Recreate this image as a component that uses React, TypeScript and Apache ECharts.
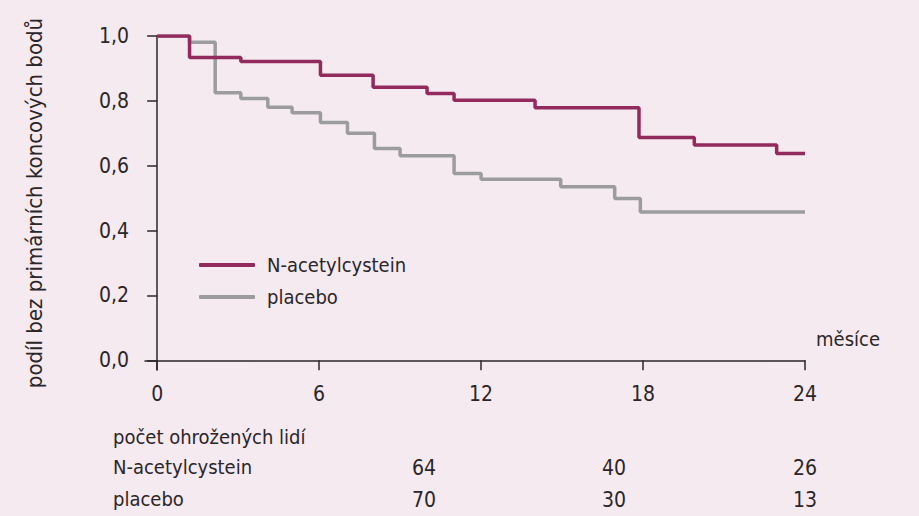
import React, { useEffect, useRef } from "react";
import * as echarts from "echarts";

const seriesNames = ["N-acetylcystein", "placebo"];

const nacMonths = [0, 1.2, 3.1, 6.05, 8.0, 10.0, 11.0, 14.0, 17.85, 19.9, 22.95, 24];
const nacValues = [1.0, 0.934, 0.921, 0.879, 0.842, 0.823, 0.802, 0.779, 0.687, 0.664, 0.638, 0.638];

const placeboMonths = [0, 1.2, 2.15, 3.1, 4.1, 5.0, 6.05, 7.05, 8.05, 9.0, 11.0, 12.0, 14.95, 16.95, 17.9, 24];
const placeboValues = [1.0, 0.981, 0.825, 0.807, 0.78, 0.763, 0.733, 0.7, 0.653, 0.631, 0.576, 0.558, 0.535, 0.499, 0.457, 0.457];

const xTicks = [0, 6, 12, 18, 24];
const yTicks = [0, 0.2, 0.4, 0.6, 0.8, 1.0];

const riskTitle = "počet ohrožených lidí";
const riskNac = [64, 40, 26];
const riskPlacebo = [70, 30, 13];

const yAxisTitle = "podíl bez primárních koncových bodů";
const xAxisTitle = "měsíce";

const FONT = "'Liberation Sans Narrow', 'DejaVu Sans Condensed', 'Liberation Sans', sans-serif";
const TEXT = "#2b2628";
const MAGENTA = "#922a5e";
const GRAY = "#9c9c9e";
const BG = "#f5eaef";

export default function App() {
  const ref = useRef<HTMLDivElement>(null);
  useEffect(() => {
    if (!ref.current) return;
    const chart = echarts.init(ref.current, null, { renderer: "svg" });
    const toPairs = (xs: number[], ys: number[]) => xs.map((x, i) => [x, ys[i]]);
    const riskCols = [424, 614, 805];
    const riskText: any[] = [
      { type: "text", left: 113, top: 427, style: { text: riskTitle, font: `20px ${FONT}`, fill: TEXT } },
      { type: "text", left: 113, top: 457, style: { text: seriesNames[0], font: `20px ${FONT}`, fill: TEXT } },
      { type: "text", left: 113, top: 489, style: { text: seriesNames[1], font: `20px ${FONT}`, fill: TEXT } },
    ];
    riskNac.forEach((v, i) => {
      riskText.push({ type: "text", x: riskCols[i], y: 468, style: { text: String(v), font: `21px ${FONT}`, fill: TEXT, align: "center", verticalAlign: "middle" } });
    });
    riskPlacebo.forEach((v, i) => {
      riskText.push({ type: "text", x: riskCols[i], y: 500, style: { text: String(v), font: `21px ${FONT}`, fill: TEXT, align: "center", verticalAlign: "middle" } });
    });
    riskText.push({ type: "text", x: 848, y: 339, style: { text: xAxisTitle, font: `20px ${FONT}`, fill: TEXT, align: "center", verticalAlign: "middle" } });

    chart.setOption({
      animation: false,
      backgroundColor: BG,
      grid: { left: 145, right: 114, top: 36, bottom: 146, containLabel: false },
      legend: {
        left: 194,
        top: 250,
        orient: "vertical",
        itemWidth: 56,
        itemHeight: 4,
        itemGap: 12,
        icon: "roundRect",
        data: seriesNames,
        textStyle: { fontFamily: FONT, fontSize: 20, color: TEXT, padding: [0, 0, 0, 7] },
      },
      xAxis: {
        type: "value",
        min: -0.45,
        max: 24,
        axisLine: { onZero: true, lineStyle: { color: TEXT, width: 1.5 } },
        axisTick: { customValues: xTicks, length: 10, lineStyle: { color: TEXT, width: 1.5 } },
        axisLabel: { customValues: xTicks, margin: 13, fontFamily: FONT, fontSize: 21, color: TEXT },
        splitLine: { show: false },
      },
      yAxis: {
        type: "value",
        min: -0.03,
        max: 1,
        name: yAxisTitle,
        nameLocation: "middle",
        nameGap: 100,
        nameTextStyle: { fontFamily: FONT, fontSize: 22, color: TEXT },
        axisLine: { show: true, onZero: true, lineStyle: { color: TEXT, width: 1.5 } },
        axisTick: { show: true, customValues: yTicks, length: 10, lineStyle: { color: TEXT, width: 1.5 } },
        axisLabel: {
          customValues: yTicks,
          margin: 16,
          fontFamily: FONT,
          fontSize: 21,
          color: TEXT,
          formatter: (v: number) => v.toFixed(1).replace(".", ","),
        },
        splitLine: { show: false },
      },
      series: [
        {
          name: seriesNames[1],
          type: "line",
          step: "end",
          symbol: "none",
          data: toPairs(placeboMonths, placeboValues),
          lineStyle: { color: GRAY, width: 3.5 },
          itemStyle: { color: GRAY },
        },
        {
          name: seriesNames[0],
          type: "line",
          step: "end",
          symbol: "none",
          data: toPairs(nacMonths, nacValues),
          lineStyle: { color: MAGENTA, width: 3.5 },
          itemStyle: { color: MAGENTA },
        },
      ],
      graphic: riskText,
    });
    return () => chart.dispose();
  }, []);
  return <div ref={ref} style={{ position: "fixed", left: 0, top: 0, width: 919, height: 516 }} />;
}
